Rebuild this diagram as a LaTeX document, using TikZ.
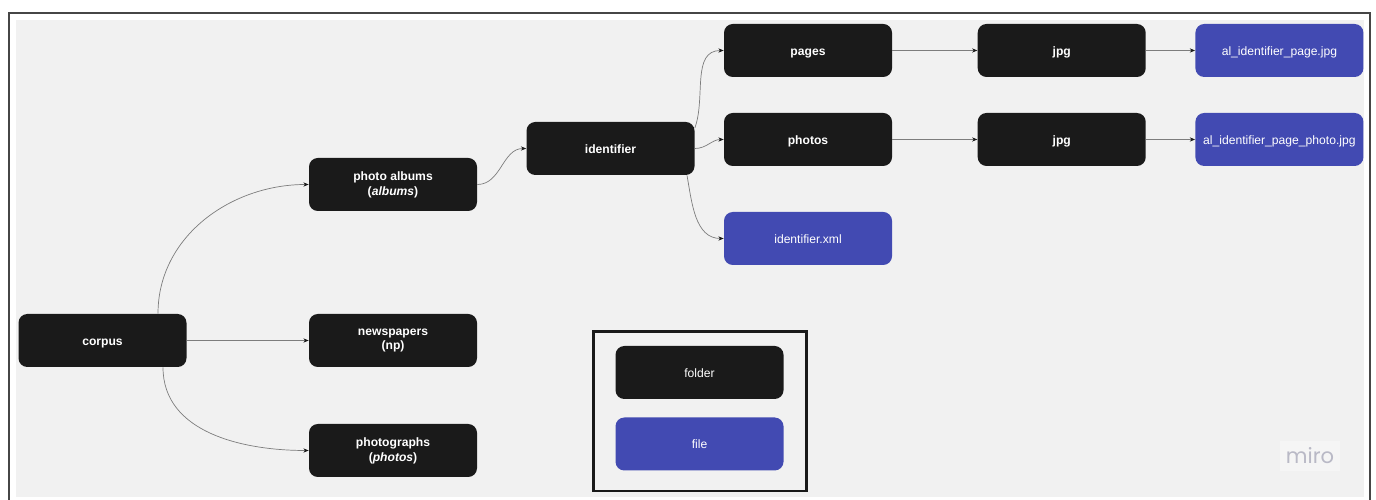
\documentclass[tikz,border=0pt]{standalone}
\usepackage{fontspec}
\setmainfont{Liberation Sans}
\newfontfamily\logofont{Poppins}
\usetikzlibrary{positioning,arrows.meta}
\definecolor{mrBlack}{RGB}{26,26,26}
\definecolor{mrBlue}{RGB}{66,74,178}
\definecolor{mrPaper}{RGB}{241,241,241}
\definecolor{mrLine}{RGB}{125,125,125}
\definecolor{mrFrame}{RGB}{70,70,70}
\definecolor{mrLogo}{RGB}{185,185,198}
\newcommand\boxfont{\fontsize{6.9}{8.5}\selectfont}

\begin{document}
\begin{tikzpicture}[
  folder/.style={fill=mrBlack, text=white, rounded corners=5pt, minimum width=3.36cm,
    minimum height=1.06cm, inner sep=0pt, align=center, font=\boxfont\bfseries,
    execute at begin node={\rule{0pt}{7pt}}, execute at end node={\rule[-1.4pt]{0pt}{1.4pt}}},
  file/.style={folder, fill=mrBlue, font=\boxfont},
  link/.style={mrLine, line width=0.4pt, -{Stealth[length=3pt,width=2.4pt,color=mrBlack]}}
]
  \useasboundingbox (0,0) rectangle (27.52,10);
  % board and frame
  \fill[mrPaper] (0.32,0.06) rectangle (27.28,9.6);
  \draw[mrFrame, line width=0.8pt] (0.18,0) -- (0.18,9.74) -- (27.4,9.74) -- (27.4,0);

  % corpus and its three collections
  \node[folder] (corpus) at (2.05,3.19) {corpus};
  \node[folder] (albums) at (7.86,6.31) {photo albums\\(\textit{albums})};
  \node[folder] (news) at (7.86,3.19) {newspapers\\(np)};
  \node[folder] (photographs) at (7.86,0.99) {photographs\\(\textit{photos})};

  % one album
  \node[folder] (identifier) at (12.21,7.03) {identifier};
  \node[folder] (pages) at (16.16,8.99) {pages};
  \node[folder] (photos) at (16.16,7.21) {photos};
  \node[file] (xml) at (16.16,5.23) {identifier.xml};
  \node[folder, right=1.7cm of pages] (pagejpg) {jpg};
  \node[folder, right=1.7cm of photos] (photojpg) {jpg};
  \node[file, right=0.98cm of pagejpg] (pagefile) {al\_identifier\_page.jpg};
  \node[file, right=0.98cm of photojpg] (photofile) {al\_identifier\_page\_photo.jpg};

  % connectors
  \draw[link] ([xshift=1.11cm]corpus.north) to[out=90,in=180] (albums.west);
  \draw[link] (corpus.east) -- (news.west);
  \draw[link] ([xshift=1.21cm]corpus.south) to[out=-90,in=180] (photographs.west);
  \draw[link] (albums.east) to[out=0,in=180] (identifier.west);
  \draw[link] ([yshift=0.41cm]identifier.east) to[out=70,in=180] (pages.west);
  \draw[link] (identifier.east) to[out=0,in=180] (photos.west);
  \draw[link] ([xshift=1.53cm]identifier.south) to[out=-80,in=180] (xml.west);
  \draw[link] (pages.east) -- (pagejpg.west);
  \draw[link] (pagejpg.east) -- (pagefile.west);
  \draw[link] (photos.east) -- (photojpg.west);
  \draw[link] (photojpg.east) -- (photofile.west);

  % legend
  \draw[mrBlack, line width=1.7pt] (11.86,0.18) rectangle (16.12,3.36);
  \node[folder, font=\boxfont] (keyfolder) at (13.99,2.55) {folder};
  \node[file] (keyfile) at (13.99,1.12) {file};

  % board logo
  \node[fill=white!30!mrPaper, text=mrLogo, font=\logofont\fontsize{12}{12}\selectfont,
    minimum width=1.2cm, minimum height=0.6cm] (miro) at (26.2,0.88) {miro};
\end{tikzpicture}
\end{document}
